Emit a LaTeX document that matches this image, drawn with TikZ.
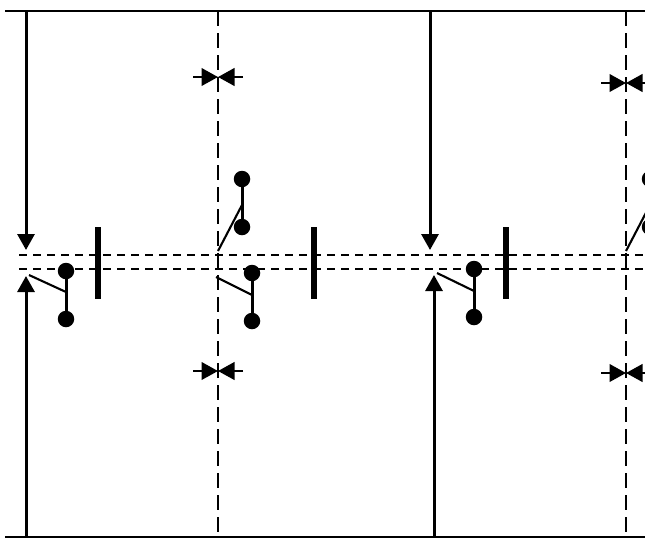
\documentclass[tikz,border=0pt]{standalone}
\usetikzlibrary{arrows.meta}
\tikzset{
  rail/.style={line width=2.5pt},
  hdash/.style={line width=2.3pt,dash pattern=on 8pt off 6pt},
  vdash/.style={line width=2.5pt,dash pattern=on 15pt off 7pt},
  feed/.style={line width=3pt,-{Triangle[length=16pt,width=17pt]}},
  squeeze/.style={line width=2.5pt,-{Triangle[length=16.5pt,width=17.5pt]}},
  bar/.style={line width=6pt},
  blade/.style={line width=2.1pt},
  stem/.style={line width=3pt},
  dot/.style={circle,fill=black,draw=none,minimum size=16.5pt,inner sep=0pt}
}
\newcommand{\switchpair}[3]{%
  \node[dot] (#1a) at (#2,#3) {};
  \node[dot] (#1b) at (#2,#3+48) {};
  \draw[stem] (#1a) -- (#1b);
}
\begin{document}
\begin{tikzpicture}[x=1pt,y=-1pt]
\useasboundingbox (0,0) rectangle (645,539);
\clip (0,0) rectangle (645,539);
% rails
\coordinate (tl) at (5,11); \coordinate (tr) at (648,11);
\coordinate (bl) at (5,537); \coordinate (br) at (648,537);
\draw[rail] (tl) -- (tr);
\draw[rail] (bl) -- (br);
% dashed lines
\coordinate (h1a) at (19,255); \coordinate (h1b) at (648,255);
\coordinate (h2a) at (19,269); \coordinate (h2b) at (648,269);
\draw[hdash] (h1a) -- (h1b);
\draw[hdash] (h2a) -- (h2b);
\coordinate (v1a) at (218,11); \coordinate (v1b) at (218,534);
\coordinate (v2a) at (626,11); \coordinate (v2b) at (626,534);
\draw[vdash] (v1a) -- (v1b);
\draw[vdash] (v2a) -- (v2b);
% feed arrows
\coordinate (a1s) at (26,11); \coordinate (a1e) at (26,250);
\coordinate (a2s) at (26,537); \coordinate (a2e) at (26,276);
\coordinate (a3s) at (430,11); \coordinate (a3e) at (430,250);
\coordinate (a4s) at (434,537); \coordinate (a4e) at (434,275);
\draw[feed] (a1s) -- (a1e);
\draw[feed] (a2s) -- (a2e);
\draw[feed] (a3s) -- (a3e);
\draw[feed] (a4s) -- (a4e);
% squeeze arrows
\foreach \x/\yy/\l/\r in {218/77/193/243, 218/371/193/243, 626/83/601/651, 626/373/601/651}{
  \draw[squeeze] (\l,\yy) -- (\x,\yy);
  \draw[squeeze] (\r,\yy) -- (\x,\yy);
}
% bars
\coordinate (b1t) at (98,227); \coordinate (b1b) at (98,299);
\coordinate (b2t) at (314,227); \coordinate (b2b) at (314,299);
\coordinate (b3t) at (506,227); \coordinate (b3b) at (506,299);
\draw[bar] (b1t) -- (b1b);
\draw[bar] (b2t) -- (b2b);
\draw[bar] (b3t) -- (b3b);
% switches
\switchpair{s}{66}{271}
\switchpair{t}{252}{273}
\switchpair{u}{242}{179}
\switchpair{w}{474}{269}
\switchpair{z}{650}{179}
\draw[blade] (29,275) -- (66,292);
\draw[blade] (216,277) -- (252,295);
\draw[blade] (218,251) -- (242,205);
\draw[blade] (437,273) -- (474,291);
\draw[blade] (626,251) -- (650,205);
\end{tikzpicture}
\end{document}
